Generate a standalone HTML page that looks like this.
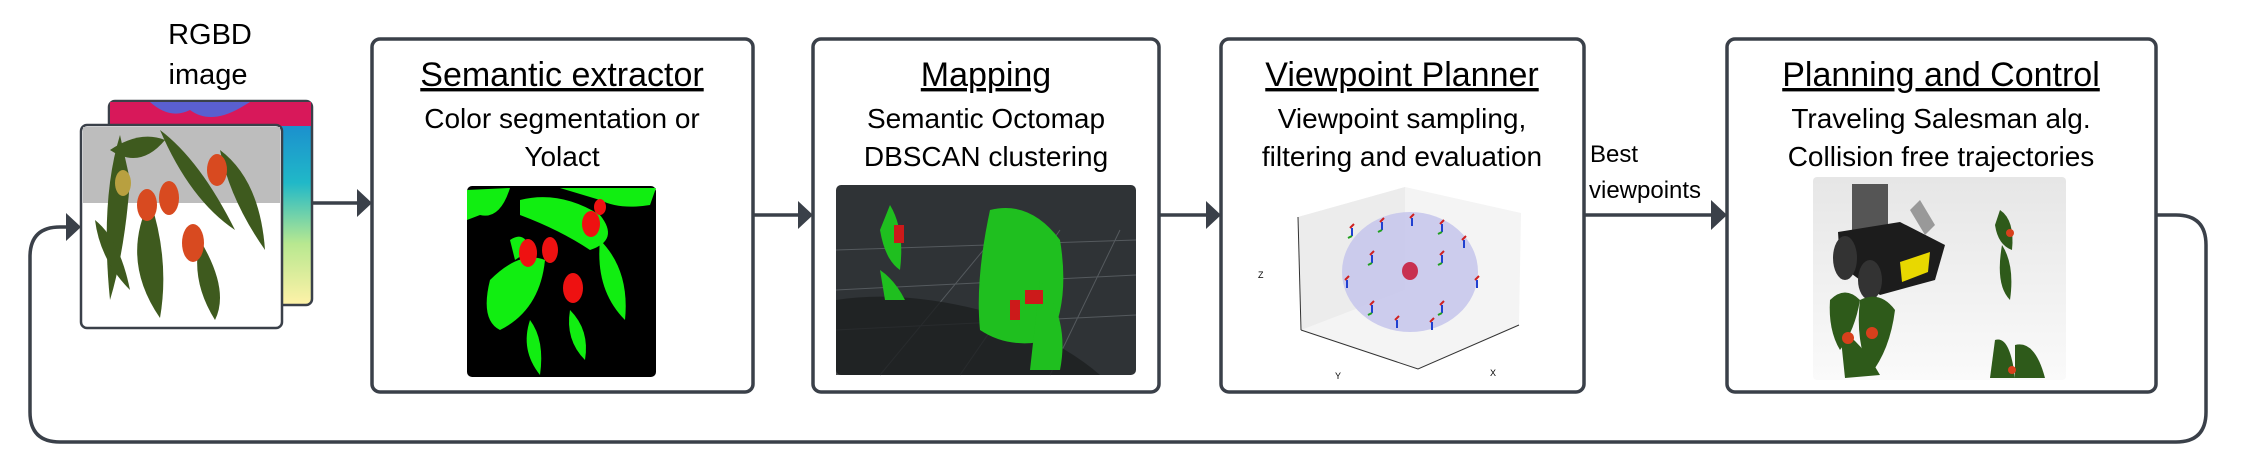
<!DOCTYPE html>
<html><head><meta charset="utf-8"><style>
html,body{margin:0;padding:0;background:#fff}
svg{display:block}
text{font-family:"Liberation Sans",sans-serif;fill:#000}
.t{text-decoration:underline}
</style></head><body>
<svg width="2243" height="475" viewBox="0 0 2243 475">
<defs>
<linearGradient id="depth" x1="0" y1="0" x2="0" y2="1">
<stop offset="0" stop-color="#1a7fd0"/><stop offset="0.4" stop-color="#20b8c8"/><stop offset="0.7" stop-color="#b8e890"/><stop offset="1" stop-color="#fff2a8"/></linearGradient>
<linearGradient id="floor" x1="0" y1="0" x2="0" y2="1"><stop offset="0" stop-color="#e6e6e6"/><stop offset="1" stop-color="#fafafa"/></linearGradient>
</defs>

<path d="M2156 215 H2176 Q2206 215 2206 245 V412 Q2206 442 2176 442 H60 Q30 442 30 412 V257 Q30 227 60 227 H68" fill="none" stroke="#3a4049" stroke-width="3.5"/>
<polygon points="66,213 81,227 66,241" fill="#3a4049"/>

<g>
<text x="210" y="44" font-size="29" text-anchor="middle">RGBD</text>
<text x="208" y="84" font-size="29" text-anchor="middle">image</text>
<rect x="109" y="101" width="203" height="204" rx="6" fill="url(#depth)" stroke="#3a4049" stroke-width="2.5"/>
<rect x="110" y="102" width="201" height="24" fill="#d8185a"/>
<path d="M150 102 Q170 120 190 110 Q210 125 240 108 L250 102 Z" fill="#5a5fd0"/>
<rect x="81" y="125" width="201" height="203" rx="6" fill="#fff" stroke="#3a4049" stroke-width="2.5"/>
<rect x="83" y="127" width="197" height="76" fill="#bdbdbd"/>
<g fill="#3e5a1e">
<path d="M120 135 Q100 200 110 300 Q125 250 130 180 Z"/>
<path d="M160 130 Q200 160 235 230 Q190 200 160 130 Z"/>
<path d="M150 200 Q120 260 160 318 Q170 260 150 200 Z"/>
<path d="M200 240 Q230 290 215 320 Q190 280 200 240 Z"/>
<path d="M110 150 Q140 170 165 140 Q140 130 110 150 Z"/>
<path d="M220 150 Q260 180 265 250 Q230 200 220 150 Z"/>
<path d="M95 220 Q120 240 130 290 Q100 260 95 220 Z"/>
</g>
<g fill="#d84a20"><ellipse cx="147" cy="205" rx="10" ry="16"/><ellipse cx="169" cy="198" rx="10" ry="17"/><ellipse cx="193" cy="243" rx="11" ry="19"/><ellipse cx="217" cy="170" rx="10" ry="16"/></g>
<ellipse cx="123" cy="183" rx="8" ry="13" fill="#b8a040"/>
</g>
<line x1="312" y1="203" x2="360" y2="203" stroke="#3a4049" stroke-width="3.5"/>
<polygon points="357,189 372,203 357,217" fill="#3a4049"/>

<g>
<rect x="372" y="39" width="381" height="353" rx="8" fill="#fff" stroke="#3a4049" stroke-width="3.5"/>
<text class="t" x="562" y="86" font-size="34" text-anchor="middle">Semantic extractor</text>
<text x="562" y="128" font-size="28" text-anchor="middle">Color segmentation or</text>
<text x="562" y="166" font-size="28" text-anchor="middle">Yolact</text>
<rect x="467" y="186" width="189" height="191" rx="5" fill="#000"/>
<g fill="#11ee11">
<path d="M467 190 L510 188 Q500 220 480 215 L467 220 Z"/>
<path d="M520 200 Q560 190 600 215 Q620 240 590 250 Q560 230 520 215 Z"/>
<path d="M490 280 Q520 250 545 260 Q540 310 500 330 Q480 320 490 280 Z"/>
<path d="M530 320 Q545 340 540 375 Q520 350 530 320 Z"/>
<path d="M570 310 Q590 330 585 360 Q565 340 570 310 Z"/>
<path d="M600 240 Q630 270 625 320 Q595 290 600 240 Z"/>
<path d="M560 188 L656 188 L650 205 Q620 210 600 200 Z"/>
<path d="M510 240 Q525 230 530 250 L515 260 Z"/>
</g>
<g fill="#ee1111"><ellipse cx="528" cy="253" rx="9" ry="14"/><ellipse cx="550" cy="250" rx="8" ry="13"/><ellipse cx="573" cy="288" rx="10" ry="15"/><ellipse cx="591" cy="224" rx="9" ry="13"/><ellipse cx="600" cy="207" rx="6" ry="8"/></g>
</g>
<line x1="753" y1="215" x2="800" y2="215" stroke="#3a4049" stroke-width="3.5"/>
<polygon points="798,201 813,215 798,229" fill="#3a4049"/>

<g>
<rect x="813" y="39" width="346" height="353" rx="8" fill="#fff" stroke="#3a4049" stroke-width="3.5"/>
<text class="t" x="986" y="86" font-size="34" text-anchor="middle">Mapping</text>
<text x="986" y="128" font-size="28" text-anchor="middle">Semantic Octomap</text>
<text x="986" y="166" font-size="28" text-anchor="middle">DBSCAN clustering</text>
<rect x="836" y="185" width="300" height="190" rx="5" fill="#2f3336"/>
<g stroke="#555a5e" stroke-width="1" fill="none">
<path d="M836 250 L1136 240 M836 290 L1136 275 M836 330 L1136 315 M880 375 L1000 230 M960 375 L1060 230 M1050 375 L1120 230"/>
</g>
<path d="M836 300 Q900 290 980 310 Q1060 340 1100 375 L836 375 Z" fill="#1d1f20" opacity="0.8"/>
<g fill="#1fbf1f">
<path d="M890 205 Q905 230 900 270 Q885 260 880 230 Z"/>
<path d="M880 270 Q895 280 905 300 L885 300 Z"/>
<path d="M990 210 Q1030 200 1060 240 Q1070 300 1050 340 Q1010 350 980 330 Q975 280 990 210 Z"/>
<path d="M1040 280 Q1070 320 1060 370 L1030 370 Z"/>
</g>
<g fill="#cc1a1a"><rect x="894" y="225" width="10" height="18"/><rect x="1025" y="290" width="18" height="14"/><rect x="1010" y="300" width="10" height="20"/></g>
</g>
<line x1="1159" y1="215" x2="1207" y2="215" stroke="#3a4049" stroke-width="3.5"/>
<polygon points="1206,201 1221,215 1206,229" fill="#3a4049"/>

<g>
<rect x="1221" y="39" width="363" height="353" rx="8" fill="#fff" stroke="#3a4049" stroke-width="3.5"/>
<text class="t" x="1402" y="86" font-size="34" text-anchor="middle">Viewpoint Planner</text>
<text x="1402" y="128" font-size="28" text-anchor="middle">Viewpoint sampling,</text>
<text x="1402" y="166" font-size="28" text-anchor="middle">filtering and evaluation</text>
<g>
<polygon points="1298,217 1405,187 1521,213 1519,325 1418,369 1301,330" fill="#f4f4f4"/>
<polygon points="1298,217 1405,187 1405,290 1301,330" fill="#ececec"/>
<path d="M1301,330 L1418,369 L1519,325" fill="none" stroke="#333" stroke-width="1"/>
<line x1="1298" y1="217" x2="1301" y2="330" stroke="#333" stroke-width="1"/>
<ellipse cx="1410" cy="272" rx="68" ry="60" fill="#c8c8ec" opacity="0.9"/>
<ellipse cx="1410" cy="271" rx="8" ry="9" fill="#c83050"/>
<g stroke-width="2">
<path d="M1350 228 l4 -4 M1380 222 l4 -4 M1410 218 l4 -4 M1440 224 l4 -4 M1462 240 l4 -4 M1370 255 l4 -4 M1440 255 l4 -4 M1345 280 l4 -4 M1475 280 l4 -4 M1370 305 l4 -4 M1440 305 l4 -4 M1395 320 l4 -4 M1430 322 l4 -4" stroke="#d02020"/>
<path d="M1352 228 l0 8 M1382 222 l0 8 M1412 218 l0 8 M1442 224 l0 8 M1464 240 l0 8 M1372 255 l0 8 M1442 255 l0 8 M1347 280 l0 8 M1477 280 l0 8 M1372 305 l0 8 M1442 305 l0 8 M1397 320 l0 8 M1432 322 l0 8" stroke="#2040d0"/>
<path d="M1352 236 l-4 2 M1382 230 l-4 2 M1442 232 l-4 2 M1372 263 l-4 2 M1442 263 l-4 2 M1372 313 l-4 2 M1442 313 l-4 2" stroke="#20a020"/>
</g>
<text x="1258" y="278" font-size="9">Z</text>
<text x="1335" y="379" font-size="9">Y</text>
<text x="1490" y="376" font-size="9">X</text>
</g>
</g>
<text x="1590" y="162" font-size="24">Best</text>
<text x="1589" y="198" font-size="24">viewpoints</text>
<line x1="1584" y1="215" x2="1712" y2="215" stroke="#3a4049" stroke-width="3.5"/>
<polygon points="1711,200 1727,215 1711,230" fill="#3a4049"/>

<g>
<rect x="1727" y="39" width="429" height="353" rx="8" fill="#fff" stroke="#3a4049" stroke-width="3.5"/>
<text class="t" x="1941" y="86" font-size="34" text-anchor="middle">Planning and Control</text>
<text x="1941" y="128" font-size="28" text-anchor="middle">Traveling Salesman alg.</text>
<text x="1941" y="166" font-size="28" text-anchor="middle">Collision free trajectories</text>
<g>
<rect x="1813" y="177" width="253" height="203" rx="4" fill="url(#floor)"/>
<rect x="1852" y="184" width="36" height="48" fill="#555"/>
<path d="M1838 232 L1900 222 L1945 245 L1935 280 L1880 295 L1840 265 Z" fill="#1c1c1c"/>
<ellipse cx="1845" cy="258" rx="12" ry="22" fill="#333"/>
<ellipse cx="1870" cy="280" rx="12" ry="20" fill="#333"/>
<polygon points="1900,262 1930,252 1928,272 1902,282" fill="#e8d800"/>
<path d="M1910 210 L1920 200 L1935 225 L1925 235 Z" fill="#999"/>
<g fill="#2e5a1a">
<path d="M1830 300 Q1845 285 1860 300 Q1855 330 1840 350 Q1828 330 1830 300 Z"/>
<path d="M1860 300 Q1880 290 1895 310 Q1890 350 1870 375 Q1855 340 1860 300 Z"/>
<path d="M1840 330 Q1860 340 1880 375 L1845 378 Z"/>
<path d="M2000 210 Q2015 220 2012 250 Q1998 245 1995 225 Z"/>
<path d="M2002 245 Q2015 265 2010 300 Q1995 285 2002 245 Z"/>
<path d="M1995 340 Q2010 335 2015 378 L1990 378 Z"/>
<path d="M2015 345 Q2035 340 2045 378 L2015 378 Z"/>
</g>
<g fill="#d8401c"><circle cx="1848" cy="338" r="6"/><circle cx="1872" cy="333" r="6"/><circle cx="2010" cy="233" r="4"/><circle cx="2012" cy="370" r="4"/></g>
</g>
</g>
</svg>
</body></html>
